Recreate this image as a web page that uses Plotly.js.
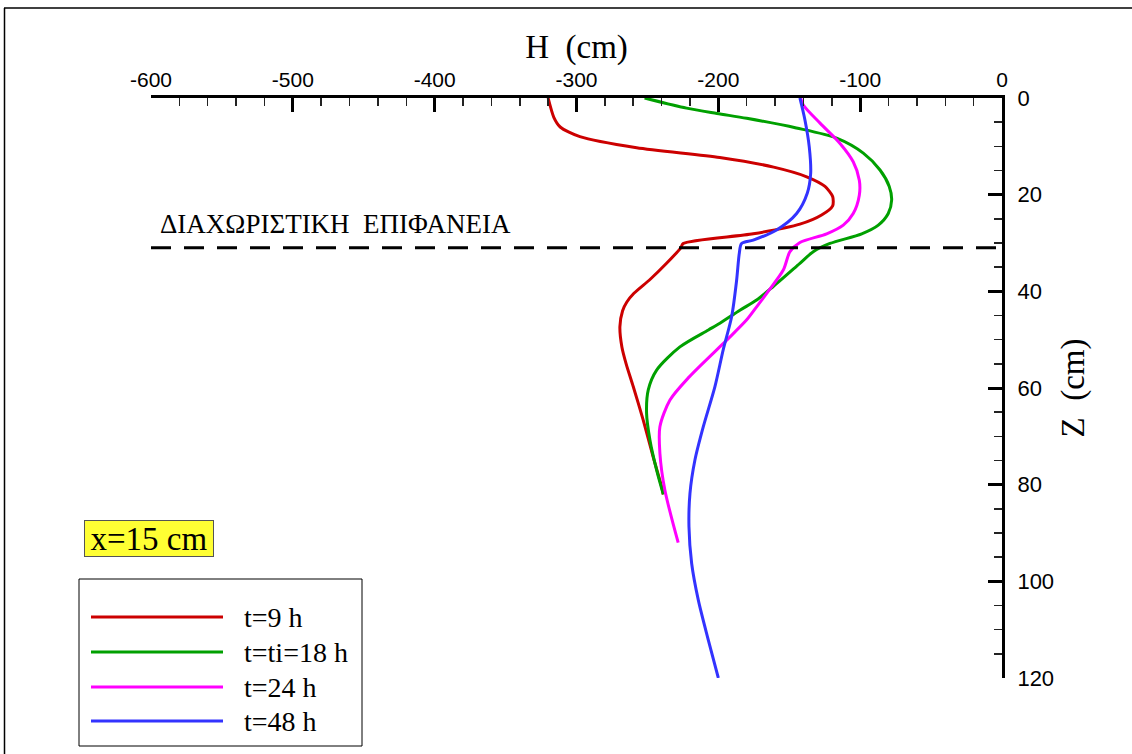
<!DOCTYPE html>
<html>
<head>
<meta charset="utf-8">
<script src="https://cdn.plot.ly/plotly-3.0.1.min.js"></script>
<style>html,body{margin:0;padding:0;background:#fff;}#chart{width:1132px;height:754px;}</style>
</head>
<body>
<div id="chart"></div>
<script>
// ---- data (H in cm, Z in cm) ----
const seriesNames = ["t=9 h", "t=ti=18 h", "t=24 h", "t=48 h"];
const seriesColors = ["#cc0000", "#00a000", "#ff00ff", "#3333ff"];

const z9 = [0, 4, 6, 8, 10.3, 12.3, 14.3, 16.3, 18.3, 20.4, 22.3, 24.2, 26.1, 28.1, 30.1, 31, 34.2, 37.5, 40.4, 42.2, 44, 47.3, 51.5, 55, 59.7, 66.6, 74.2, 80.4, 82];
const h9 = [-320, -316, -311.5, -297.6, -257.6, -199, -161, -137.7, -124.8, -119.4, -119.4, -127.2, -142.5, -175.4, -224.8, -226.5, -236.5, -248, -259.5, -264.5, -267.5, -269.4, -268, -265, -260, -253, -246, -240, -238.8];

const z18 = [0, 2.1, 3.2, 4.2, 6.2, 8.3, 11.4, 14.9, 18.3, 21.1, 23.9, 26.3, 28.1, 30.1, 31.8, 34.2, 39, 41.8, 43.9, 46.6, 48, 51.5, 56.3, 60.4, 65.2, 70.8, 77, 82];
const h18 = [-252, -222.4, -201, -180, -145, -116.6, -97.8, -86, -79.5, -77.8, -80.2, -87.2, -98.9, -121.3, -133.1, -142.5, -161.3, -173, -184.8, -198.9, -207, -227.1, -243.5, -249.4, -250.6, -248.2, -243.5, -238.8];

const z24 = [0, 1.5, 5.2, 9.4, 13.2, 17, 20.1, 23.9, 26.3, 28.1, 29.9, 31.8, 35.6, 40.4, 43.2, 45.9, 50.1, 57.7, 62.5, 68, 73.5, 81.1, 92];
const h24 = [-142, -140, -128.3, -114.2, -104.9, -100.6, -100.6, -104.9, -111.9, -123.6, -142.5, -149.5, -154.2, -165.9, -173, -180, -194.1, -220.5, -234.1, -241.2, -241.2, -237.7, -228.3];

const z48 = [0, 4.6, 10.1, 15.6, 19.7, 23.9, 27.3, 29.4, 30.1, 32.1, 37.7, 45.2, 52, 59.7, 68, 74.9, 81.8, 88.7, 96.3, 103.9, 112.1, 120];
const h48 = [-142.5, -138.9, -135.9, -134.9, -137.3, -144.8, -158.9, -175.4, -183.6, -185.2, -187.1, -190.6, -196.5, -202.4, -210.6, -216.5, -220, -220.7, -218.8, -214.1, -207.1, -200];

const xTickVals = [-600, -500, -400, -300, -200, -100, 0];
const xTickText = ["-600", "-500", "-400", "-300", "-200", "-100", "0"];
const yTickVals = [0, 20, 40, 60, 80, 100, 120];
const yTickText = ["0", "20", "40", "60", "80", "100", "120"];
const interfaceZ = [31];
const interfaceLabel = "ΔΙΑΧΩΡΙΣΤΙΚΗ\u00A0\u00A0ΕΠΙΦΑΝΕΙΑ";
const positionLabel = "x=15 cm";
const xTitle = "H\u00A0\u00A0(cm)";
const yTitle = "Z\u00A0\u00A0(cm)";

// ---- layout helpers ----
const W = 1132, Hh = 754;
const M = {l: 151, r: 130, t: 98, b: 76};
const pw = W - M.l - M.r, ph = Hh - M.t - M.b;
const px = x => (x - M.l) / pw;
const py = y => 1 - (y - M.t) / ph;

const SERIF = "Times New Roman, Liberation Serif, serif";
const SANS = "Arial, Liberation Sans, sans-serif";

const zs = [z9, z18, z24, z48];
const hs = [h9, h18, h24, h48];
const traces = zs.map((z, i) => ({
  x: hs[i], y: z, type: "scatter", mode: "lines", name: seriesNames[i],
  line: {color: seriesColors[i], width: 3, shape: "spline", smoothing: i === 0 ? 0.7 : 0.8},
  showlegend: false, hoverinfo: "skip"
}));

const shapes = [
  {type: "line", xref: "x", yref: "y", x0: -600, x1: 0, y0: interfaceZ[0], y1: interfaceZ[0],
   line: {color: "black", width: 3, dash: "20px,13px"}},
  {type: "line", xref: "paper", yref: "paper", x0: px(4), x1: px(1132), y0: py(8), y1: py(8), line: {color: "black", width: 1.5}},
  {type: "line", xref: "paper", yref: "paper", x0: px(4.5), x1: px(4.5), y0: py(8), y1: py(754), line: {color: "black", width: 1.5}},
  {type: "rect", xref: "paper", yref: "paper", x0: px(79), x1: px(362), y0: py(579), y1: py(746), line: {color: "black", width: 1}, fillcolor: "white"}
];
const legendRows = [617, 652, 687, 721];
const annotations = [];
legendRows.forEach((y, i) => {
  shapes.push({type: "line", xref: "paper", yref: "paper", x0: px(91), x1: px(223), y0: py(y), y1: py(y), line: {color: seriesColors[i], width: 3}});
  annotations.push({xref: "paper", yref: "paper", x: px(242), y: py(y), xanchor: "left", yanchor: "middle",
    text: seriesNames[i], showarrow: false, font: {family: SERIF, size: 28, color: "black"}});
});
annotations.push({xref: "paper", yref: "paper", x: px(149), y: py(538.5), xanchor: "center", yanchor: "middle",
  text: positionLabel, showarrow: false, font: {family: SERIF, size: 33, color: "black"},
  bgcolor: "#ffff33", bordercolor: "#555", borderwidth: 1, borderpad: 1, width: 126, height: 33});
annotations.push({xref: "paper", yref: "paper", x: px(158), y: py(224), xanchor: "left", yanchor: "middle",
  text: interfaceLabel, showarrow: false, font: {family: SERIF, size: 27, color: "black"}});

const layout = {
  width: W, height: Hh, margin: M, paper_bgcolor: "white", plot_bgcolor: "white", showlegend: false,
  xaxis: {
    side: "top", range: [-600, 0], tickmode: "array", tickvals: xTickVals, ticktext: xTickText,
    ticks: "inside", ticklen: 14, tickwidth: 3, tickcolor: "black",
    minor: {dtick: 20, tick0: -600, ticks: "inside", ticklen: 8, tickwidth: 1.5, tickcolor: "#222", showgrid: false},
    showline: true, linewidth: 3, linecolor: "black", mirror: false,
    showgrid: false, zeroline: false,
    tickfont: {family: SANS, size: 21, color: "black"},
    title: {text: xTitle, font: {family: SERIF, size: 33, color: "black"}, standoff: 0}
  },
  yaxis: {
    side: "right", range: [120, 0], tickmode: "array", tickvals: yTickVals, ticktext: yTickText,
    ticks: "inside", ticklen: 14, tickwidth: 3, tickcolor: "black",
    minor: {dtick: 5, tick0: 0, ticks: "inside", ticklen: 8, tickwidth: 1.5, tickcolor: "#222", showgrid: false},
    showline: true, linewidth: 3, linecolor: "black", mirror: false,
    showgrid: false, zeroline: false, ticklabelstandoff: 8,
    tickfont: {family: SANS, size: 22, color: "black"},
    title: {text: yTitle, font: {family: SERIF, size: 33, color: "black"}, standoff: 8}
  },
  shapes: shapes, annotations: annotations
};

Plotly.newPlot("chart", traces, layout, {staticPlot: true, displayModeBar: false});
</script>
</body>
</html>
